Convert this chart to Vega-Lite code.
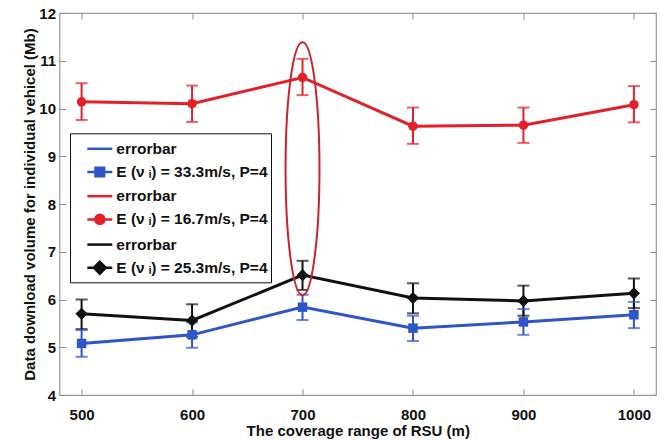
{
  "$schema": "https://vega.github.io/schema/vega-lite/v6.json",
  "width": 596.5,
  "height": 382,
  "autosize": "none",
  "padding": {"left": 59.5, "top": 13, "right": 14, "bottom": 45},
  "background": "white",
  "config": {
    "font": "Liberation Sans",
    "view": {"stroke": "#9a9a9a", "strokeWidth": 1.2},
    "axis": {
      "grid": false,
      "domain": false,
      "tickColor": "#8a8a8a",
      "tickWidth": 1,
      "tickSize": 6,
      "offset": -6,
      "labelFont": "Liberation Sans",
      "labelFontWeight": "bold",
      "labelFontSize": 15,
      "labelColor": "#111",
      "titleFont": "Liberation Sans",
      "titleFontWeight": "bold",
      "titleFontSize": 15,
      "titleColor": "#111"
    },
    "legend": {
      "padding": 3,
      "rowPadding": 2.2,
      "symbolSize": 471,
      "symbolStrokeWidth": 2.5,
      "symbolOpacity": 1,
      "labelOffset": 18.3,
      "labelFont": "Liberation Sans",
      "labelFontWeight": "bold",
      "labelFontSize": 15.5,
      "labelColor": "#111",
      "labelLimit": 400,
      "strokeColor": "#111",
      "fillColor": "white"
    }
  },
  "datasets": {
    "series": [
      {"range": 500, "key": "b", "mean": 5.08, "lo": 4.80, "hi": 5.36},
      {"range": 600, "key": "b", "mean": 5.26, "lo": 4.99, "hi": 5.52},
      {"range": 700, "key": "b", "mean": 5.84, "lo": 5.57, "hi": 6.10},
      {"range": 800, "key": "b", "mean": 5.40, "lo": 5.13, "hi": 5.66},
      {"range": 900, "key": "b", "mean": 5.53, "lo": 5.26, "hi": 5.80},
      {"range": 1000, "key": "b", "mean": 5.68, "lo": 5.40, "hi": 5.95},
      {"range": 500, "key": "r", "mean": 10.14, "lo": 9.76, "hi": 10.53},
      {"range": 600, "key": "r", "mean": 10.10, "lo": 9.72, "hi": 10.48},
      {"range": 700, "key": "r", "mean": 10.65, "lo": 10.28, "hi": 11.04},
      {"range": 800, "key": "r", "mean": 9.63, "lo": 9.26, "hi": 10.02},
      {"range": 900, "key": "r", "mean": 9.65, "lo": 9.28, "hi": 10.02},
      {"range": 1000, "key": "r", "mean": 10.08, "lo": 9.71, "hi": 10.47},
      {"range": 500, "key": "k", "mean": 5.70, "lo": 5.38, "hi": 6.00},
      {"range": 600, "key": "k", "mean": 5.56, "lo": 5.22, "hi": 5.90},
      {"range": 700, "key": "k", "mean": 6.51, "lo": 6.20, "hi": 6.81},
      {"range": 800, "key": "k", "mean": 6.03, "lo": 5.71, "hi": 6.34},
      {"range": 900, "key": "k", "mean": 5.97, "lo": 5.66, "hi": 6.29},
      {"range": 1000, "key": "k", "mean": 6.13, "lo": 5.82, "hi": 6.44}
    ],
    "highlight": [
      {"range": 700, "center": 8.74}
    ]
  },
  "data": {"name": "series"},
  "layer": [
    {
      "mark": {"type": "rule", "strokeWidth": 2},
      "encoding": {
        "x": {"field": "range", "type": "quantitative",
              "scale": {"domain": [480, 1020], "nice": false, "zero": false},
              "axis": {"orient": "bottom", "values": [500, 600, 700, 800, 900, 1000], "format": "d",
                       "labelPadding": 12, "title": "The coverage range of RSU (m)",
                       "titleY": 41, "titleBaseline": "middle"}},
        "y": {"field": "lo", "type": "quantitative",
              "scale": {"domain": [4, 12], "nice": false, "zero": false},
              "axis": {"orient": "left", "values": [4, 5, 6, 7, 8, 9, 10, 11, 12], "format": "d",
                       "labelPadding": 4, "title": "Data download volume for individual vehicel (Mb)",
                       "titleX": -36, "titleBaseline": "middle"}},
        "y2": {"field": "hi"},
        "color": {"field": "key", "type": "nominal", "legend": null,
                  "scale": {"domain": ["b", "r", "k"],
                            "range": ["#2f55c8", "#e3202a", "#111111"]}}
      }
    },
    {
      "mark": {"type": "tick", "orient": "horizontal", "size": 12, "thickness": 2},
      "encoding": {
        "x": {"field": "range", "type": "quantitative", "axis": null},
        "y": {"field": "lo", "type": "quantitative", "axis": null},
        "color": {"field": "key", "type": "nominal", "legend": null}
      }
    },
    {
      "mark": {"type": "tick", "orient": "horizontal", "size": 12, "thickness": 2},
      "encoding": {
        "x": {"field": "range", "type": "quantitative", "axis": null},
        "y": {"field": "hi", "type": "quantitative", "axis": null},
        "color": {"field": "key", "type": "nominal", "legend": null}
      }
    },
    {
      "mark": {"type": "line", "strokeWidth": 3},
      "encoding": {
        "x": {"field": "range", "type": "quantitative", "axis": null},
        "y": {"field": "mean", "type": "quantitative", "axis": null},
        "color": {"field": "key", "type": "nominal", "legend": null}
      }
    },
    {
      "transform": [{"filter": "datum.key === 'b'"}],
      "mark": {"type": "point", "shape": "square", "filled": true, "opacity": 1, "size": 90},
      "encoding": {
        "x": {"field": "range", "type": "quantitative", "axis": null},
        "y": {"field": "mean", "type": "quantitative", "axis": null},
        "color": {"field": "key", "type": "nominal", "legend": null}
      }
    },
    {
      "transform": [{"filter": "datum.key === 'r'"}],
      "mark": {"type": "point", "shape": "circle", "filled": true, "opacity": 1, "size": 90},
      "encoding": {
        "x": {"field": "range", "type": "quantitative", "axis": null},
        "y": {"field": "mean", "type": "quantitative", "axis": null},
        "color": {"field": "key", "type": "nominal", "legend": null}
      }
    },
    {
      "transform": [{"filter": "datum.key === 'k'"}],
      "mark": {"type": "point", "shape": "diamond", "filled": true, "opacity": 1, "size": 150},
      "encoding": {
        "x": {"field": "range", "type": "quantitative", "axis": null},
        "y": {"field": "mean", "type": "quantitative", "axis": null},
        "color": {"field": "key", "type": "nominal", "legend": null}
      }
    },
    {
      "data": {"name": "highlight"},
      "mark": {"type": "point", "filled": false, "opacity": 1,
               "shape": "M-0.134,0A0.134,1 0 1,0 0.134,0A0.134,1 0 1,0 -0.134,0Z",
               "size": 64009, "color": "#cc2229", "strokeWidth": 2},
      "encoding": {
        "x": {"field": "range", "type": "quantitative", "axis": null},
        "y": {"field": "center", "type": "quantitative", "axis": null}
      }
    },
    {
      "mark": {"type": "point", "opacity": 0, "size": 471, "strokeWidth": 2.5},
      "encoding": {
        "x": {"field": "range", "type": "quantitative",
              "axis": {"orient": "top", "values": [500, 600, 700, 800, 900, 1000], "labels": false, "title": null}},
        "y": {"field": "mean", "type": "quantitative",
              "axis": {"orient": "right", "values": [4, 5, 6, 7, 8, 9, 10, 11, 12], "labels": false, "title": null}},
        "fill": {"field": "key", "type": "nominal",
                 "scale": {"domain": ["b_err", "b", "r_err", "r", "k_err", "k"],
                           "range": ["#2f55c8", "#2f55c8", "#e3202a", "#e3202a", "#111111", "#111111"]},
                 "legend": {"title": null, "orient": "none", "legendX": 10.5, "legendY": 120.3,
                            "labelExpr": "indexof(datum.value, '_err') >= 0 ? 'errorbar' : datum.value === 'b' ? 'E (ν ᵢ) = 33.3m/s, P=4' : datum.value === 'r' ? 'E (ν ᵢ) = 16.7m/s, P=4' : 'E (ν ᵢ) = 25.3m/s, P=4'"}},
        "stroke": {"field": "key", "type": "nominal",
                   "scale": {"domain": ["b_err", "b", "r_err", "r", "k_err", "k"],
                             "range": ["#2f55c8", "#2f55c8", "#e3202a", "#e3202a", "#111111", "#111111"]},
                   "legend": {"title": null, "orient": "none", "legendX": 10.5, "legendY": 120.3,
                              "labelExpr": "indexof(datum.value, '_err') >= 0 ? 'errorbar' : datum.value === 'b' ? 'E (ν ᵢ) = 33.3m/s, P=4' : datum.value === 'r' ? 'E (ν ᵢ) = 16.7m/s, P=4' : 'E (ν ᵢ) = 25.3m/s, P=4'"}},
        "shape": {
          "field": "key", "type": "nominal",
          "scale": {
            "domain": ["b_err", "b", "r_err", "r", "k_err", "k"],
            "range": [
              "M0.17,0L2.47,0",
              "M0.17,0L2.47,0M0.92,-0.4L1.72,-0.4L1.72,0.4L0.92,0.4Z",
              "M0.17,0L2.47,0",
              "M0.17,0L2.47,0M0.9,0A0.42,0.42 0 1,0 1.74,0A0.42,0.42 0 1,0 0.9,0Z",
              "M0.17,0L2.47,0",
              "M0.17,0L2.47,0M1.32,-0.55L1.87,0L1.32,0.55L0.77,0Z"
            ]
          },
          "legend": {"title": null, "orient": "none", "legendX": 10.5, "legendY": 120.3,
                     "labelExpr": "indexof(datum.value, '_err') >= 0 ? 'errorbar' : datum.value === 'b' ? 'E (ν ᵢ) = 33.3m/s, P=4' : datum.value === 'r' ? 'E (ν ᵢ) = 16.7m/s, P=4' : 'E (ν ᵢ) = 25.3m/s, P=4'"}
        }
      }
    }
  ],
  "resolve": {"axis": {"x": "independent", "y": "independent"}}
}
